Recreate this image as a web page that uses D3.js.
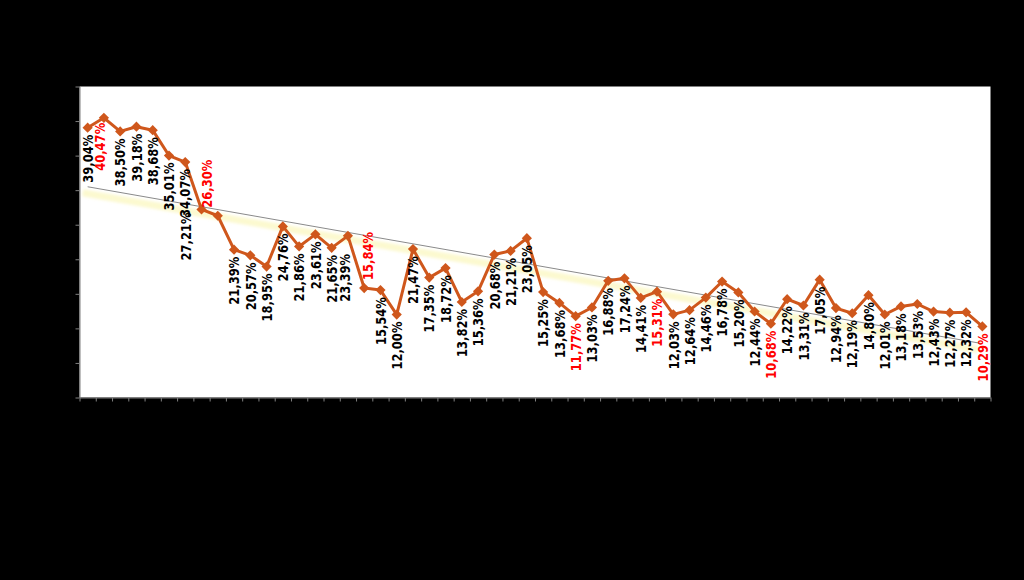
<!DOCTYPE html>
<html>
<head>
<meta charset="utf-8">
<script src="https://cdn.jsdelivr.net/npm/d3@7"></script>
<style>
html, body { margin:0; padding:0; background:#000; }
svg { display:block; }
.lbl { font-family:"DejaVu Sans","Liberation Sans",sans-serif; font-weight:bold; font-size:14.5px; }
.axis path, .axis line { stroke:#808080; }
</style>
</head>
<body>
<svg id="chart" width="1024" height="580"></svg>
<script>
// values, in percent
var values = [39.04, 40.47, 38.50, 39.18, 38.68, 35.01, 34.07, 27.21, 26.30,
	21.39, 20.57, 18.95, 24.76, 21.86, 23.61, 21.65, 23.39,
	15.84, 15.54, 12.00, 21.47, 17.35, 18.72, 13.82, 15.36,
	20.68, 21.21, 23.05, 15.25, 13.68, 11.77, 13.03, 16.88,
	17.24, 14.41, 15.31, 12.03, 12.64, 14.46, 16.78, 15.20,
	12.44, 10.68, 14.22, 13.31, 17.05, 12.94, 12.19, 14.80,
	12.01, 13.18, 13.53, 12.43, 12.27, 12.32, 10.29];
var categories = d3.range(values.length);
// data labels printed in red
var highlighted = [1, 8, 17, 30, 35, 42, 55];
var yTicks = [0, 5, 10, 15, 20, 25, 30, 35, 40, 45];

// labels that were moved by hand in the original
var labelAbove = [8, 17];
var labelShift = {1:[-4,-2], 7:[-16,-4], 8:[-11,0], 16:[-3,11], 17:[4,0]};

var box = {left:79.5, right:990.5, top:86.5, bottom:397.5};
var orange = '#cf571c';

var svg = d3.select('#chart');
var x = d3.scaleBand().domain(categories).range([box.left, box.right]);
var xEdge = d3.scaleLinear().domain([0, categories.length]).range([box.left, box.right]);
var y = d3.scaleLinear().domain([0, d3.max(yTicks)]).range([box.bottom, box.top]);
var cx = function(i) { return x(i) + x.bandwidth() / 2; };

svg.append('rect').attr('width', 1024).attr('height', 580).attr('fill', '#000');
svg.append('rect')
	.attr('x', box.left).attr('y', box.top)
	.attr('width', box.right - box.left).attr('height', box.bottom - box.top)
	.attr('fill', '#fff');

svg.append('g').attr('class', 'axis')
	.attr('transform', 'translate(' + box.left + ',0)')
	.call(d3.axisLeft(y).tickValues(yTicks).tickSize(4).tickSizeOuter(0).tickFormat(''));
svg.append('g').attr('class', 'axis')
	.attr('transform', 'translate(0,' + box.bottom + ')')
	.call(d3.axisBottom(xEdge).tickValues(d3.range(categories.length + 1)).tickSize(4).tickSizeOuter(0).tickFormat(''));

// linear trend (least squares)
var n = values.length;
var mx = d3.mean(categories), my = d3.mean(values);
var slope = d3.sum(categories, function(i) { return (i - mx) * (values[i] - my); }) /
	d3.sum(categories, function(i) { return (i - mx) * (i - mx); });
var trend = [0, n - 1].map(function(i) { return [cx(i), y(my + slope * (i - mx))]; });

var defs = svg.append('defs');
defs.append('filter').attr('id', 'soft').append('feGaussianBlur').attr('stdDeviation', 1.8);

svg.append('path').attr('d', d3.line()(trend))
	.attr('transform', 'translate(-5,6)')
	.attr('stroke', '#f7ef86').attr('stroke-opacity', 0.4).attr('stroke-width', 7)
	.attr('fill', 'none').attr('filter', 'url(#soft)');
svg.append('path').attr('d', d3.line()(trend))
	.attr('stroke', '#8a8a8a').attr('stroke-width', 1).attr('fill', 'none');

var line = d3.line().x(function(d, i) { return cx(i); }).y(function(d) { return y(d); });
svg.append('path').datum(values).attr('d', line)
	.attr('fill', 'none').attr('stroke', orange).attr('stroke-width', 3).attr('stroke-linejoin', 'round');

svg.append('g').selectAll('path').data(values).enter().append('path')
	.attr('d', d3.symbol().type(d3.symbolSquare).size(52))
	.attr('transform', function(d, i) { return 'translate(' + cx(i) + ',' + y(d) + ') rotate(45)'; })
	.attr('fill', orange);

var fmt = d3.formatLocale({decimal:',', thousands:'.', grouping:[3], currency:['', '']}).format('.2f');

svg.append('g').selectAll('text').data(values).enter().append('text')
	.attr('class', 'lbl')
	.attr('fill', function(d, i) { return highlighted.indexOf(i) >= 0 ? '#ff0000' : '#000'; })
	.attr('text-anchor', function(d, i) { return labelAbove.indexOf(i) >= 0 ? 'start' : 'end'; })
	.attr('textLength', 48).attr('lengthAdjust', 'spacingAndGlyphs')
	.attr('dy', '0.36em')
	.attr('transform', function(d, i) {
		var s = labelShift[i] || [0, 0];
		var above = labelAbove.indexOf(i) >= 0;
		var ly = above ? y(d) - 8 : y(d) + 7;
		return 'translate(' + (cx(i) + s[0]) + ',' + (ly + s[1]) + ') rotate(-90)';
	})
	.text(function(d) { return fmt(d) + '%'; });
</script>
</body>
</html>
